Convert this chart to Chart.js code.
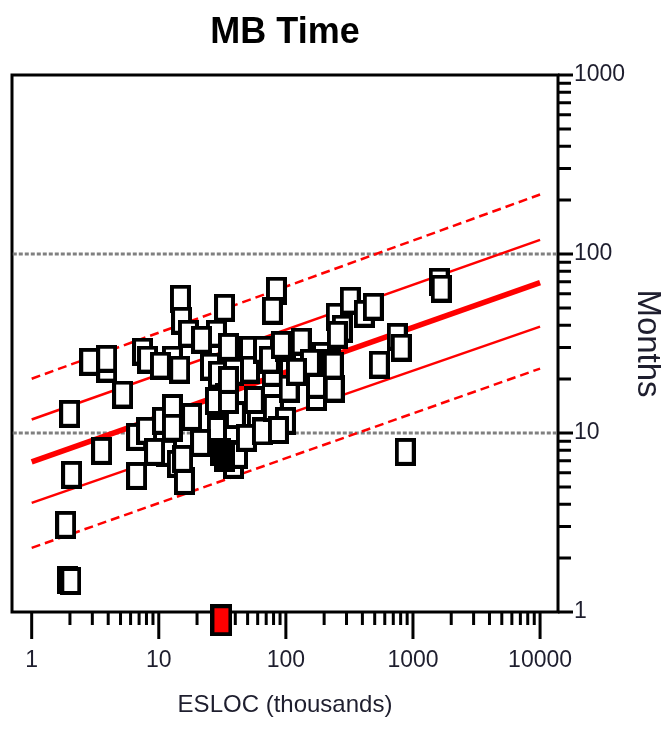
<!DOCTYPE html>
<html>
<head>
<meta charset="utf-8">
<title>MB Time</title>
<script src="https://cdn.jsdelivr.net/npm/chart.js@4.4.1/dist/chart.umd.min.js"></script>
<style>
  html, body { margin: 0; padding: 0; background: #fff; }
  #wrap { width: 661px; height: 729px; }
</style>
</head>
<body>
<div id="wrap"><canvas id="mbTime"></canvas></div>
<script>
// project data: ESLOC (thousands) vs Months
const esloc = [1.85, 1.92, 2.03, 1.99, 2.06, 3.55, 2.86, 3.89, 3.89, 5.19,
  6.69, 6.69, 8.01, 7.45, 8.16, 10.7, 11.5, 12.8, 12.8, 12.8, 14.6, 14.0, 15.9, 18.1, 15.4, 14.8, 15.1, 17.1, 9.26, 10.3,
  25.5, 29.5, 28.4, 32.9, 35.3, 28.9, 33.5, 27.9, 28.9, 38.7, 38.7, 21.3, 51.7, 51.7, 66.6, 59.7, 40.1, 41.6, 35.3, 21.7, 38.7, 56.5, 35.3,
  48.9, 65.4,
  84.2, 78.3, 78.3, 74.2, 79.7, 99.1, 87.3, 99.1, 92.2, 132, 174, 180, 194, 249, 278, 321, 414, 487, 174, 240, 156, 224, 254, 236,
  106, 121,
  543, 752, 808, 869, 1608, 1667];
const months = [3.07, 1.51, 1.49, 12.8, 5.84, 7.95, 25.0, 22.9, 26.0, 16.4,
  9.52, 5.76, 10.3, 28.5, 25.7, 11.7, 7.75, 13.8, 10.7, 25.7, 22.6, 6.73, 5.40, 12.3, 7.17, 56.3, 42.4, 35.9, 7.85, 23.8,
  23.5, 21.2, 35.9, 50.1, 30.3, 14.9, 15.9, 15.1, 10.4, 10.4, 6.64, 8.81, 29.2, 22.6, 29.2, 12.2, 12.6, 7.55, 15.3, 33.2, 22.0, 15.3, 19.8,
  9.40, 10.2,
  62.4, 48.2, 21.7, 25.7, 13.8, 11.7, 10.4, 30.0, 31.1, 32.4, 15.9, 23.5, 27.0, 44.7, 38.3, 54.9, 46.4, 50.8, 18.6, 17.7, 24.7, 24.7, 35.4, 23.8,
  17.7, 22.0,
  24.1, 34.5, 30.0, 7.85, 70.1, 64.1];

// highlighted (filled) projects
const markedEsloc = [30.6, 32.9];
const markedMonths = [7.85, 7.27];

// size marker shown on the x axis
const markerEsloc = [31.1];
const markerMonths = [0.9];

// trend line and bands (end points)
const fitX = [1, 10000];
const fitMid = [6.9, 69.2];
const fitUpper1 = [11.9, 120];
const fitLower1 = [4.07, 39.3];
const fitUpper2 = [20.1, 215];
const fitLower2 = [2.28, 22.9];

// reference levels (dotted)
const refLevels = [10, 100];

const xTickLabels = [1, 10, 100, 1000, 10000];
const yTickLabels = [1, 10, 100, 1000];
const xMin = 0.71, xMax = 13840;

function decadeTicks(lo, hi) {
  const out = [];
  for (let d = lo; d < hi; d *= 10) {
    for (let k = 1; k < 10; k++) out.push(d * k);
  }
  out.push(hi);
  return out;
}

function boxStyle(w, h, fill, lw) {
  const c = document.createElement('canvas');
  c.width = w; c.height = h;
  const g = c.getContext('2d');
  g.fillStyle = fill;
  g.fillRect(0, 0, w, h);
  g.strokeStyle = '#000';
  g.lineWidth = lw;
  g.strokeRect(lw / 2, lw / 2, w - lw, h - lw);
  return c;
}

const whiteBox = boxStyle(21, 28, '#fff', 4);
const blackBox = boxStyle(21, 28, '#000', 4);
const redBox = boxStyle(22, 32, '#ff0000', 4);

const zip = (xs, ys) => xs.map((v, i) => ({x: v, y: ys[i]}));

function lineSet(ys, width, dash) {
  return {
    data: zip(fitX, ys),
    showLine: true,
    borderColor: '#ff0000',
    borderWidth: width,
    borderDash: dash,
    pointRadius: 0,
    order: 3
  };
}

const datasets = [
  {data: zip(esloc, months), pointStyle: whiteBox, order: 2},
  {data: zip(markedEsloc, markedMonths), pointStyle: blackBox, order: 1},
  // radius only widens the in-area check so the marker below the axis is drawn
  {data: zip(markerEsloc, markerMonths), pointStyle: redBox, pointRadius: 20, order: 0, clip: false},
  lineSet(fitMid, 5.5, []),
  lineSet(fitUpper1, 2.5, []),
  lineSet(fitLower1, 2.5, []),
  lineSet(fitUpper2, 2.5, [9, 5]),
  lineSet(fitLower2, 2.5, [9, 5])
];
refLevels.forEach(v => {
  datasets.push({
    data: [{x: xMin, y: v}, {x: xMax, y: v}],
    showLine: true,
    borderColor: '#808080',
    borderWidth: 3,
    borderDash: [4, 2],
    pointRadius: 0,
    order: 4
  });
});

const frame = {
  id: 'frame',
  beforeDatasetsDraw(chart) {
    const {ctx, chartArea: a, scales: {x, y}} = chart;
    ctx.save();
    ctx.strokeStyle = '#000';
    ctx.lineWidth = 3;
    ctx.strokeRect(a.left, a.top, a.right - a.left, a.bottom - a.top);
    ctx.beginPath();
    x.ticks.forEach(t => {
      const px = x.getPixelForValue(t.value);
      ctx.moveTo(px, a.bottom);
      ctx.lineTo(px, a.bottom + (xTickLabels.includes(t.value) ? 27 : 13));
    });
    y.ticks.forEach(t => {
      const py = y.getPixelForValue(t.value);
      ctx.moveTo(a.right, py);
      ctx.lineTo(a.right + (yTickLabels.includes(t.value) ? 15 : 13), py);
    });
    ctx.stroke();
    ctx.restore();
  }
};

const fam = '"Liberation Sans", Arial, sans-serif';

new Chart(document.getElementById('mbTime'), {
  type: 'scatter',
  data: {datasets: datasets},
  options: {
    responsive: true,
    maintainAspectRatio: false,
    animation: false,
    events: [],
    layout: {autoPadding: false, padding: {left: 12, right: 0, top: 0, bottom: 0}},
    plugins: {
      legend: {display: false},
      tooltip: {enabled: false},
      title: {
        display: true,
        text: 'MB Time',
        fullSize: false,
        color: '#000',
        font: {family: fam, size: 36, weight: 'bold', lineHeight: 1.2},
        padding: {top: 11, bottom: 20.8}
      }
    },
    scales: {
      x: {
        type: 'logarithmic',
        position: 'bottom',
        min: xMin,
        max: xMax,
        afterBuildTicks: s => { s.ticks = decadeTicks(1, 10000).map(v => ({value: v})); },
        afterFit: s => { s.height = 117; s.paddingLeft = 0; s.paddingRight = 0; },
        grid: {display: true, drawOnChartArea: false, drawTicks: false},
        border: {display: false},
        ticks: {
          autoSkip: false,
          maxRotation: 0,
          padding: 35,
          color: '#1e1e2e',
          font: {family: fam, size: 23},
          callback: v => xTickLabels.includes(v) ? String(v) : ''
        },
        title: {
          display: true,
          text: 'ESLOC (thousands)',
          color: '#1e1e2e',
          font: {family: fam, size: 24, lineHeight: 1.2},
          padding: {top: 9, bottom: 9}
        }
      },
      y: {
        type: 'logarithmic',
        position: 'right',
        min: 1,
        max: 1000,
        afterBuildTicks: s => { s.ticks = decadeTicks(1, 1000).map(v => ({value: v})); },
        afterFit: s => { s.width = 103; },
        grid: {display: true, drawOnChartArea: false, drawTicks: false},
        border: {display: false},
        ticks: {
          autoSkip: false,
          padding: 16,
          color: '#1e1e2e',
          font: {family: fam, size: 23},
          callback: v => yTickLabels.includes(v) ? String(v) : ''
        },
        title: {
          display: true,
          text: 'Months',
          color: '#1e1e2e',
          font: {family: fam, size: 33, lineHeight: 0.85},
          padding: {top: 0, bottom: 0}
        }
      }
    }
  },
  plugins: [frame]
});
</script>
</body>
</html>
